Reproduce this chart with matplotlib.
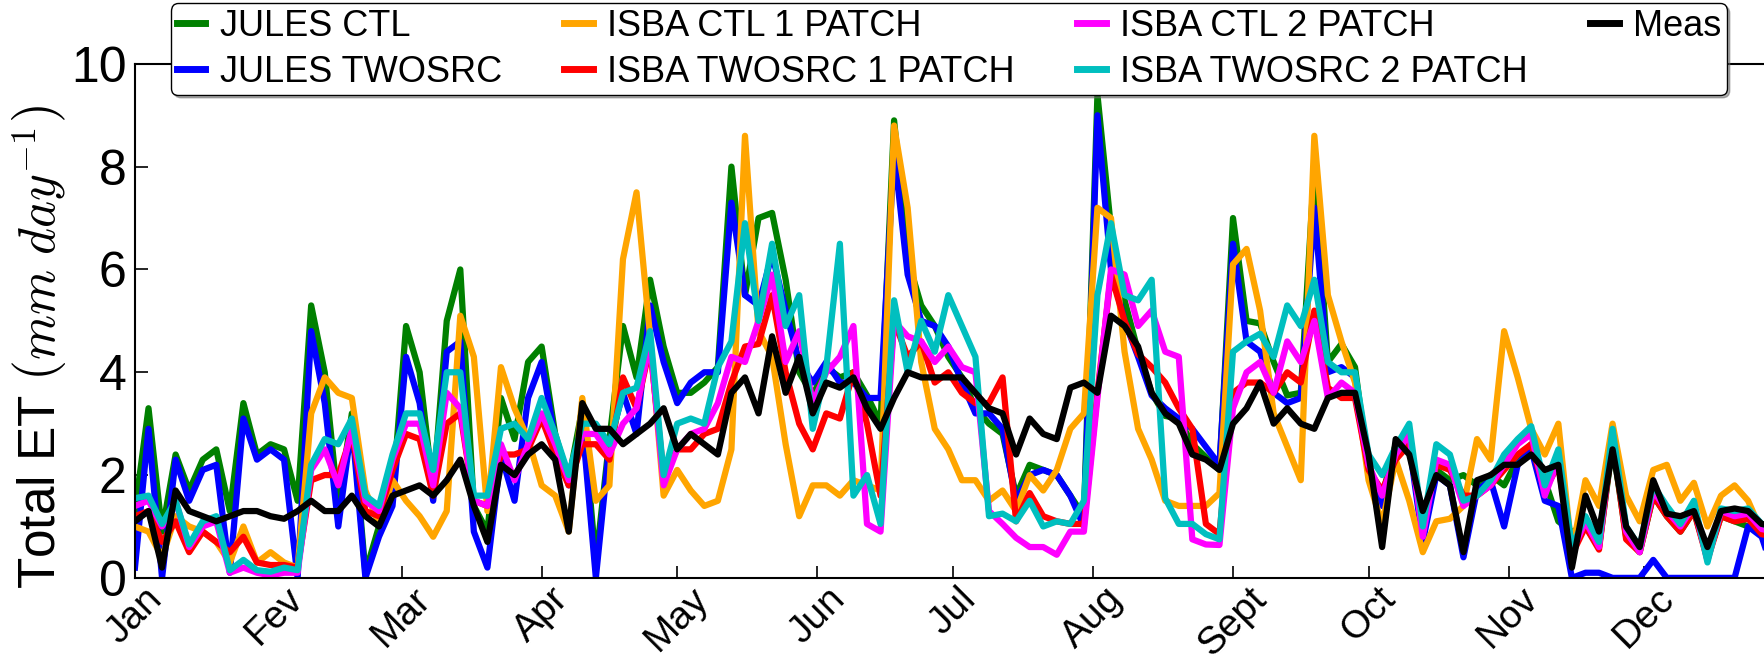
import numpy as np
import matplotlib
matplotlib.use('Agg')
import matplotlib.pyplot as plt

plt.rcParams['font.family'] = ['Liberation Sans', 'DejaVu Sans']
plt.rcParams['mathtext.fontset'] = 'cm'

# day of year, sampled every 3 days
days = np.arange(0, 364, 3)

month_days = [0, 31, 59, 90, 120, 151, 181, 212, 243, 273, 304, 334]
month_labels = ['Jan', 'Fev', 'Mar', 'Apr', 'May', 'Jun', 'Jul', 'Aug', 'Sept', 'Oct', 'Nov', 'Dec']

# total ET (mm/day)
jules_ctl = [1.3, 3.3, 0.9, 2.4, 1.7, 2.3, 2.5, 1.3, 3.4, 2.4, 2.6, 2.5, 1.5, 5.3, 4.0,
             1.4,
             3.2, 0.1, 1.0, 1.6, 4.9, 4.0, 1.7, 5.0, 6.0, 1.4, 0.9, 3.5, 2.7, 4.2, 4.5,
             2.8, 1.9, 3.3, 0.3, 2.7, 4.9, 3.9, 5.8, 4.5, 3.6, 3.6, 3.8, 4.1, 8.0, 5.5,
             7.0, 7.1, 5.8, 4.0, 3.55, 4.1, 3.9, 4.0, 3.55, 3.0, 8.9, 6.2, 5.3, 4.9, 4.3,
             3.9, 3.3, 3.0, 2.8, 1.6, 2.2, 2.1, 2.0, 1.6, 1.2, 9.4, 6.8, 5.4, 4.4, 3.6,
             3.15, 3.1, 2.6, 2.35, 2.1, 7.0, 5.0, 4.95, 4.2, 3.55, 3.6, 8.0, 4.2, 4.55, 4.1,
             2.1, 1.6, 2.6, 2.7, 1.0, 2.1, 1.9, 2.0, 1.8, 2.0, 1.8, 2.3, 2.6, 1.9, 1.1,
             0.9, 1.0, 0.6, 2.6, 0.8, 0.5, 1.6, 1.2, 0.9, 1.3, 0.4, 1.2, 1.1, 1.0, 1.05, 0.8]

jules_twosrc = [0.2, 2.9, 0.0, 2.3, 1.5, 2.1, 2.2, 0.1, 3.1, 2.3, 2.5, 2.3, 0.0, 4.8, 3.4,
                1.0,
                3.0, 0.0, 0.8, 1.4, 4.3, 3.4, 1.5, 4.4, 4.6, 0.9, 0.2, 2.4, 1.5, 3.5, 4.2,
                2.7, 1.8, 3.0, 0.0, 2.6, 3.6, 2.8, 5.3, 4.2, 3.4, 3.8, 4.0, 4.0, 7.3, 5.5,
                5.3, 6.3, 5.2, 4.2, 3.8, 4.2, 3.8, 3.8, 3.5, 3.5, 8.3, 5.9, 5.0, 4.9, 4.5,
                3.8, 3.2, 3.2, 2.9, 1.5, 2.0, 2.1, 2.0, 1.6, 1.0, 9.0, 6.0, 5.0, 4.3, 3.55,
                3.3, 3.1, 2.9, 2.55, 2.2, 6.5, 4.6, 4.4, 3.6, 3.4, 3.5, 7.2, 4.0, 4.1, 3.9,
                2.0, 1.4, 2.55, 2.6, 0.7, 2.0, 1.8, 0.4, 1.7, 1.9, 1.0, 2.2, 2.5, 1.5, 1.4,
                0.0, 0.1, 0.1, 0.0, 0.0, 0.0, 0.35, 0.0, 0.0, 0.0, 0.0, 0.0, 0.0, 1.0, 0.8, 0.0]

isba_ctl_1p = [1.0, 0.9, 0.4, 1.2, 1.0, 0.9, 0.7, 0.3, 1.0, 0.3, 0.5, 0.3, 0.2, 3.2, 3.9,
               3.6,
               3.5, 1.7, 1.05, 1.9, 1.5, 1.2, 0.8, 1.3, 5.1, 4.3, 1.3, 4.1, 3.3, 2.7, 1.8,
               1.6, 0.9, 3.5, 1.5, 1.8, 6.2, 7.5, 4.7, 1.6, 2.1, 1.7, 1.4, 1.5, 2.5, 8.6,
               4.8, 4.3, 2.6, 1.2, 1.8, 1.8, 1.6, 1.9, 1.8, 1.7, 8.8, 7.2, 4.2, 2.9, 2.5,
               1.9, 1.9, 1.5, 1.7, 1.3, 2.0, 1.7, 2.1, 2.9, 3.2, 7.2, 7.0, 4.4, 2.9, 2.3,
               1.5, 1.4, 1.4, 1.4, 1.65, 6.1, 6.4, 5.2, 3.2, 2.55, 1.9, 8.6, 5.5, 4.6, 3.8,
               1.9, 1.05, 2.3, 1.5, 0.5, 1.1, 1.15, 1.4, 2.7, 2.3, 4.8, 3.9, 2.9, 2.4, 3.0,
               0.5, 1.9, 1.4, 3.0, 1.6, 1.1, 2.1, 2.2, 1.5, 1.85, 1.0, 1.6, 1.8, 1.5, 0.9, 1.0]

isba_twosrc_1p = [1.2, 1.3, 0.7, 1.1, 0.5, 0.9, 0.7, 0.5, 0.8, 0.3, 0.25, 0.25, 0.2, 1.9, 2.0,
                  2.0,
                  2.8, 1.3, 1.2, 2.1, 2.8, 2.7, 1.6, 3.0, 3.2, 1.5, 1.4, 2.4, 2.4, 2.5, 3.1,
                  2.4, 1.8, 2.6, 2.6, 2.3, 3.9, 3.3, 4.5, 2.0, 2.5, 2.5, 2.8, 2.9, 3.8, 4.5,
                  4.55, 5.5, 4.0, 3.0, 2.5, 3.2, 3.1, 4.0, 3.0, 1.6, 5.0, 4.3, 4.6, 3.8, 4.0,
                  3.6, 3.4, 3.4, 3.9, 1.1, 1.65, 1.2, 1.1, 1.05, 1.05, 3.6, 5.9, 5.0, 4.35, 4.1,
                  3.8, 3.3, 2.9, 1.05, 0.85, 3.6, 3.8, 3.8, 3.6, 4.0, 3.8, 5.2, 3.7, 3.5, 3.5,
                  2.1, 1.7, 2.3, 2.6, 1.0, 2.2, 2.1, 1.6, 1.6, 1.8, 2.1, 2.4, 2.6, 1.7, 2.2,
                  0.45, 1.0, 0.55, 2.7, 0.75, 0.5, 1.6, 1.2, 0.9, 1.3, 0.35, 1.2, 1.1, 1.15, 0.85, 0.8]

isba_ctl_2p = [1.4, 1.5, 1.0, 1.5, 0.6, 1.0, 1.1, 0.1, 0.2, 0.1, 0.05, 0.1, 0.1, 2.1, 2.5,
               1.8,
               2.9, 1.5, 1.3, 2.3, 3.0, 3.0, 1.8, 3.6, 3.3, 1.5, 1.4, 2.6, 1.9, 2.6, 3.2,
               2.6, 1.9, 2.8, 2.8, 2.4, 3.0, 3.3, 4.6, 1.8, 2.5, 2.8, 2.9, 3.4, 4.3, 4.2,
               5.0, 5.9, 4.2, 4.8, 3.4, 4.0, 4.3, 4.9, 1.05, 0.9, 5.0, 4.7, 4.6, 4.2, 4.5,
               4.1, 4.0, 1.3, 1.05, 0.78, 0.6, 0.6, 0.45, 0.9, 0.9, 3.5, 6.0, 5.9, 4.9, 5.2,
               4.4, 4.3, 0.75, 0.65, 0.64, 3.3, 4.0, 4.2, 3.6, 4.6, 4.2, 5.0, 3.5, 3.8, 3.6,
               2.2, 1.6, 2.4, 2.8, 0.8, 2.3, 2.2, 1.4, 1.6, 1.8, 2.2, 2.6, 2.8, 1.6, 2.3,
               0.5, 1.1, 0.6, 2.8, 0.9, 0.5, 1.7, 1.3, 1.0, 1.4, 0.35, 1.3, 1.2, 1.25, 0.95, 0.9]

isba_twosrc_2p = [1.55, 1.6, 1.05, 1.5, 0.65, 1.1, 1.2, 0.15, 0.35, 0.15, 0.12, 0.2, 0.15, 2.2, 2.7,
                  2.6,
                  3.1, 1.6, 1.4, 2.4, 3.2, 3.2, 2.1, 4.0, 4.0, 1.6, 1.6, 2.9, 3.0, 2.7, 3.5,
                  2.8, 2.0, 3.0, 3.0, 2.6, 3.6, 3.7, 4.8, 2.0, 3.0, 3.1, 3.0, 4.1, 4.6, 6.9,
                  5.0, 6.5, 4.9, 5.5, 2.9, 4.1, 6.5, 1.6, 2.0, 1.05, 5.4, 4.0, 5.0, 4.4, 5.5,
                  4.9, 4.3, 1.2, 1.25, 1.1, 1.5, 1.0, 1.1, 1.05, 1.5, 5.5, 6.9, 5.5, 5.4, 5.8,
                  1.55, 1.05, 1.05, 0.85, 0.75, 4.4, 4.6, 4.75, 4.3, 5.3, 4.9, 5.8, 4.2, 4.0, 4.0,
                  2.4, 2.0, 2.55, 3.0, 1.0, 2.6, 2.4, 1.5, 1.6, 1.9, 2.4, 2.7, 2.95, 1.8, 2.5,
                  0.6, 1.2, 0.7, 2.9, 1.0, 0.6, 1.8, 1.4, 1.05, 1.5, 0.3, 1.35, 1.3, 1.35, 1.05, 1.0]

meas = [1.1, 1.3, 0.2, 1.7, 1.3, 1.2, 1.1, 1.2, 1.3, 1.3, 1.2, 1.15, 1.3, 1.5, 1.3,
        1.3,
        1.6, 1.2, 1.0, 1.6, 1.7, 1.8, 1.6, 1.9, 2.3, 1.4, 0.7, 2.2, 2.0, 2.4, 2.6,
        2.3, 0.9, 3.4, 2.9, 2.9, 2.6, 2.8, 3.0, 3.3, 2.5, 2.8, 2.6, 2.4, 3.6, 3.9,
        3.2, 4.7, 3.6, 4.3, 3.2, 3.8, 3.7, 3.9, 3.3, 2.9, 3.5, 4.0, 3.9, 3.9, 3.9,
        3.9, 3.6, 3.3, 3.2, 2.4, 3.1, 2.8, 2.7, 3.7, 3.8, 3.6, 5.1, 4.9, 4.5, 3.6,
        3.2, 3.0, 2.4, 2.3, 2.1, 3.0, 3.3, 3.8, 3.0, 3.3, 3.0, 2.9, 3.5, 3.6, 3.6,
        2.4, 0.6, 2.7, 2.4, 1.3, 2.0, 1.8, 0.5, 1.9, 2.0, 2.2, 2.2, 2.4, 2.1, 2.2,
        0.2, 1.6, 0.9, 2.5, 1.0, 0.6, 1.9, 1.25, 1.2, 1.3, 0.6, 1.3, 1.35, 1.3, 1.05, 1.0]

series = [
    ('JULES CTL', jules_ctl, '#008000'),
    ('JULES TWOSRC', jules_twosrc, '#0000ff'),
    ('ISBA CTL 1 PATCH', isba_ctl_1p, '#ffa500'),
    ('ISBA TWOSRC 1 PATCH', isba_twosrc_1p, '#ff0000'),
    ('ISBA CTL 2 PATCH', isba_ctl_2p, '#ff00ff'),
    ('ISBA TWOSRC 2 PATCH', isba_twosrc_2p, '#00bfbf'),
    ('Meas', meas, 'k'),
]

fig = plt.figure(figsize=(17.64, 6.65), dpi=100)
ax = fig.add_axes([0.0765, 0.131, 0.935, 0.773])

for name, vals, col in series:
    ax.plot(days, vals, color=col, lw=4.5, label=name)

ax.set_xlim(0, 365)
ax.set_ylim(0, 10)
ax.set_yticks([0, 2, 4, 6, 8, 10])
ax.set_xticks(month_days)
ax.set_xticklabels(month_labels, rotation=45, ha='center', fontsize=28)
ax.tick_params(axis='y', labelsize=36, pad=6)
ax.tick_params(axis='x', pad=2)
ax.tick_params(direction='in', length=9, width=1.2, top=True, right=True)
for s in ax.spines.values():
    s.set_linewidth(1.5)

ax.set_ylabel(r'Total ET $\left(mm\ day^{-1}\right)$', fontsize=37)
ax.yaxis.set_label_coords(-0.040, 0.45)

leg = ax.legend(ncol=4, loc='upper left', bbox_to_anchor=(0.097, 0.895, 0.882, 0.1),
                bbox_transform=fig.transFigure, mode='expand', borderaxespad=0,
                fontsize=26, handlelength=0.8, handletextpad=0.4, labelspacing=0.3,
                borderpad=0.15, fancybox=True, shadow={'color': '0.4', 'alpha': 0.5},
                framealpha=1, edgecolor='k')
for h in leg.get_lines():
    h.set_linewidth(5)

fig.savefig('out.png', dpi=100)
